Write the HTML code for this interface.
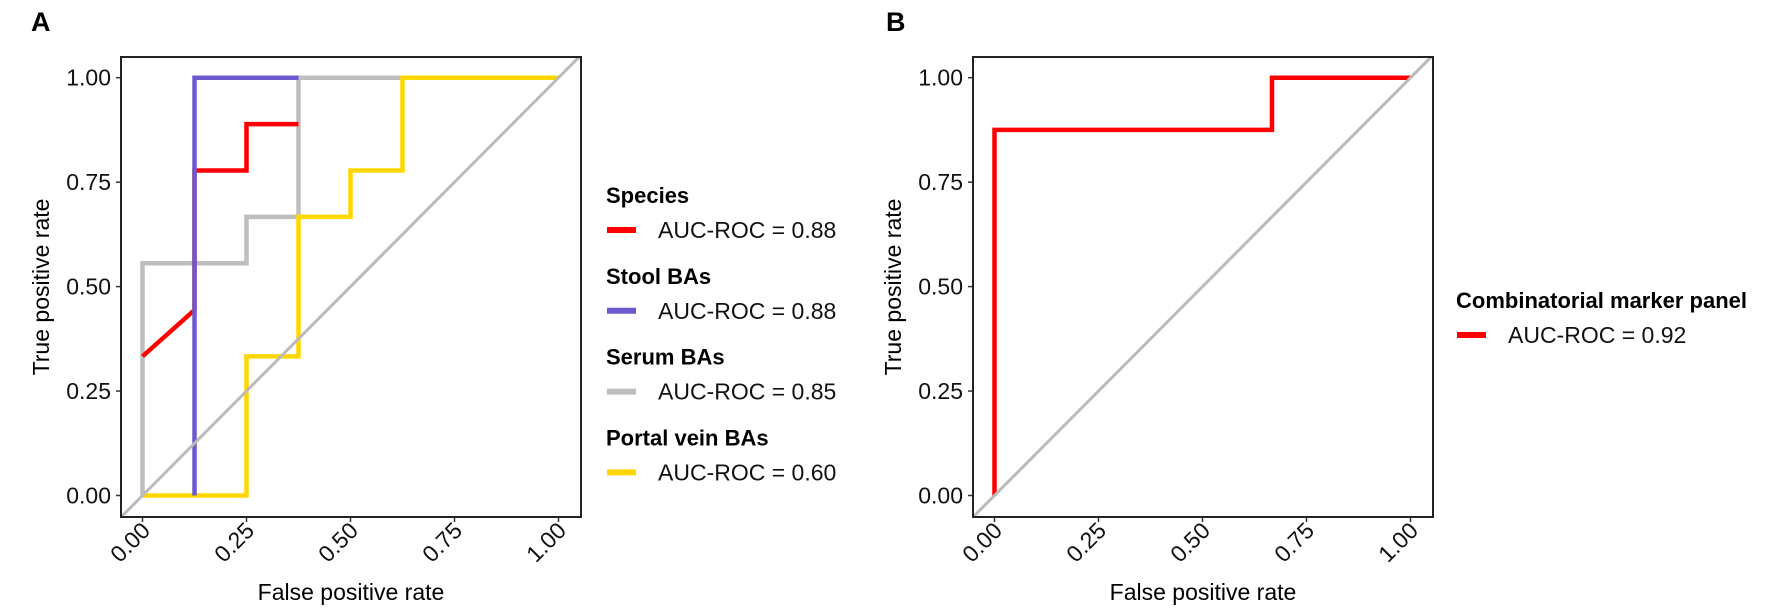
<!DOCTYPE html>
<html><head><meta charset="utf-8"><style>
body{margin:0;background:#fff;}
svg{display:block;font-family:"Liberation Sans",Arial,sans-serif;}
</style></head><body>
<svg id="c" width="1772" height="612" xmlns="http://www.w3.org/2000/svg"></svg>
<script>
const ticks=[0,0.25,0.5,0.75,1];
const tickLabels=["0.00","0.25","0.50","0.75","1.00"];
const seriesA_names=["Species","Stool BAs","Serum BAs","Portal vein BAs"];
const seriesA_auc=["0.88","0.88","0.85","0.60"];
const speciesFpr=[0,0.125,0.125,0.25,0.25,0.375];
const speciesTpr=[0.333,0.444,0.778,0.778,0.889,0.889];
const stoolFpr=[0.125,0.125,0.375];
const stoolTpr=[0,1,1];
const serumFpr=[0,0,0.25,0.25,0.375,0.375,0.625];
const serumTpr=[0,0.556,0.556,0.667,0.667,1,1];
const portalFpr=[0,0.25,0.25,0.375,0.375,0.5,0.5,0.625,0.625,1];
const portalTpr=[0,0,0.333,0.333,0.667,0.667,0.778,0.778,1,1];
const panelFpr=[0,0,0.667,0.667,1];
const panelTpr=[0,0.875,0.875,1,1];
const panelAuc="0.92";

const NS="http://www.w3.org/2000/svg";
const svg=document.getElementById('c');
function el(t,a,p){const e=document.createElementNS(NS,t);for(const k in a)e.setAttribute(k,a[k]);(p||svg).appendChild(e);return e;}
function txt(s,a,p){const e=el('text',a,p);e.textContent=s;return e;}

const BW=460, TOP=57, BOT=517, Y1=77.7, Y0=495.5;
function panel(name,bx,letter,lx){
  const g=el('g',{});
  
  
  const x0=bx+21.5, x1=x0+416;
  const sx=v=>x0+(x1-x0)*v, sy=v=>Y0-(Y0-Y1)*v;
  const L=txt(letter,{x:lx,y:31,'font-size':27,'font-weight':'bold'},g);
  
  
  const ax=el('g',{},g);
  
  
  ticks.forEach((t,i)=>{
    el('line',{x1:bx-5,x2:bx,y1:sy(t),y2:sy(t),stroke:'#333','stroke-width':1.5},ax);
    const yl=txt(tickLabels[i],{x:bx-10,y:sy(t)+8,'font-size':23,'text-anchor':'end',fill:'#111'},ax);
    
    
    el('line',{x1:sx(t),x2:sx(t),y1:BOT,y2:BOT+5,stroke:'#333','stroke-width':1.5},ax);
    const xl=txt(tickLabels[i],{x:0,y:0,'font-size':23,'text-anchor':'end',fill:'#111',transform:`translate(${sx(t)+9},${BOT+15}) rotate(-45)`},ax);
    
    
  });
  const xt=txt('False positive rate',{x:bx+BW/2,y:600,'font-size':23,'text-anchor':'middle'},g);
  
  
  const yt=txt('True positive rate',{x:0,y:0,'font-size':23,'text-anchor':'middle',transform:`translate(${bx-72},287) rotate(-90)`},g);
  
  
  const clip=el('clipPath',{id:'cl'+letter},g);
  el('rect',{x:bx,y:TOP,width:BW,height:BOT-TOP},clip);
  const plot=el('g',{'clip-path':`url(#cl${letter})`},g);
  return {g,plot,sx,sy,bx};
}
function curve(P,fx,ty,color,w,name){
  const pts=fx.map((v,i)=>P.sx(v)+','+P.sy(ty[i])).join(' ');
  const p=el('polyline',{points:pts,fill:'none',stroke:color,'stroke-width':w,'stroke-linejoin':'miter'},P.plot);
  
  
}
function diag(P){
  const d=el('line',{x1:P.sx(-0.1),y1:P.sy(-0.1),x2:P.sx(1.1),y2:P.sy(1.1),stroke:'#bbbbbb','stroke-width':3},P.plot);
  
  
}
function frame(P){
  const r=el('rect',{x:P.bx,y:TOP,width:BW,height:BOT-TOP,fill:'none',stroke:'#222','stroke-width':2},P.g);
  
  
}

const A=panel('panel-a',121,'A',31);
curve(A,serumFpr,serumTpr,'#bebebe',4.5,'serum-bas-curve');
curve(A,portalFpr,portalTpr,'#ffd700',4.5,'portal-vein-bas-curve');
curve(A,speciesFpr,speciesTpr,'#ff0000',4.5,'species-curve');
curve(A,stoolFpr,stoolTpr,'#6a5acd',4.5,'stool-bas-curve');
diag(A);frame(A);

const colsA=['#ff0000','#6a5acd','#bebebe','#ffd700'];
const legA=el('g',{});


seriesA_names.forEach((n,i)=>{
  const y=203+i*80.8;
  const e=el('g',{},legA);
  
  
  txt(n,{x:606,y:y,'font-size':22,'font-weight':'bold'},e);
  el('line',{x1:607,x2:636,y1:y+27,y2:y+27,stroke:colsA[i],'stroke-width':6},e);
  txt('AUC-ROC = '+seriesA_auc[i],{x:658,y:y+35,'font-size':23,fill:'#111'},e);
});

const B=panel('panel-b',973,'B',886);
curve(B,panelFpr,panelTpr,'#ff0000',4.5,'combinatorial-panel-curve');
diag(B);frame(B);
const legB=el('g',{});


txt('Combinatorial marker panel',{x:1456,y:308,'font-size':22,'font-weight':'bold'},legB);
el('line',{x1:1457,x2:1486,y1:335,y2:335,stroke:'#ff0000','stroke-width':6},legB);
txt('AUC-ROC = '+panelAuc,{x:1508,y:343,'font-size':23,fill:'#111'},legB);
</script>
</body></html>
